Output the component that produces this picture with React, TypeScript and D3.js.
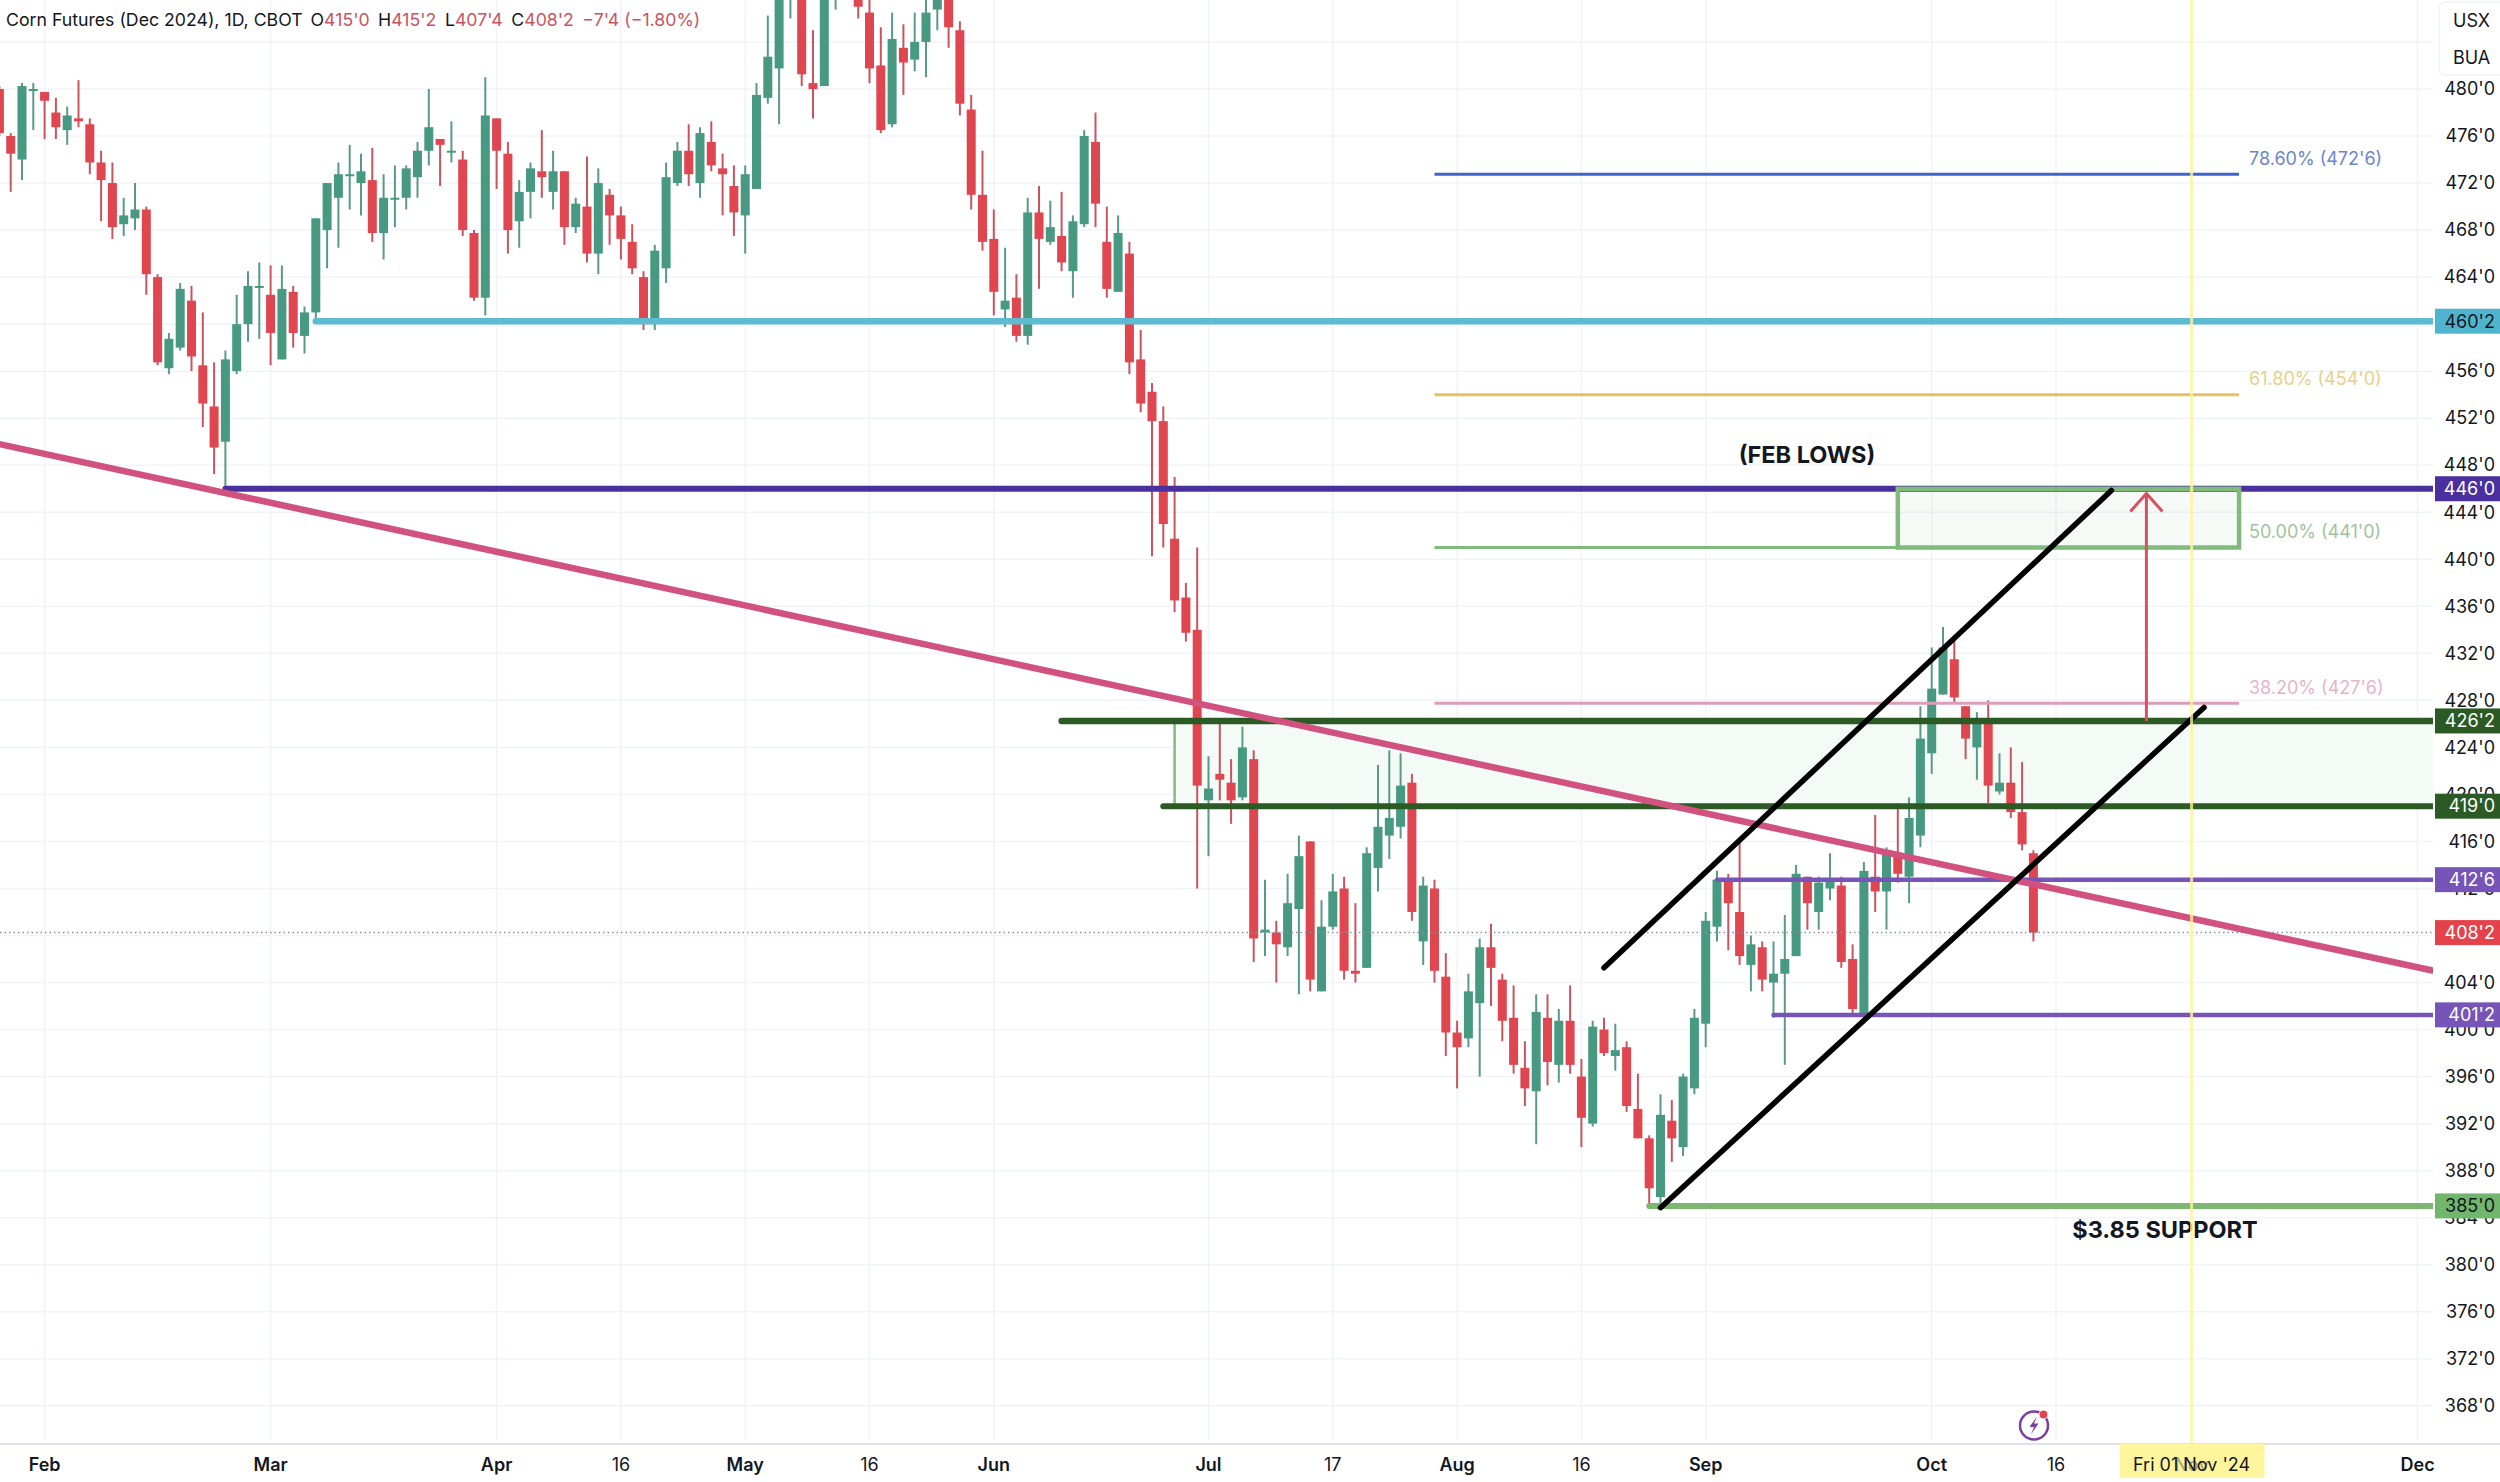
import { useEffect, useRef } from 'react'
import * as d3 from 'd3'

// Daily bars, prices in cents. Bars above the top of the picture are estimates.
const opens = [
  480, 476, 474, 480, 479.75, 478, 476.5, 477.5, 477, 473.75,
  472, 468.5, 469, 469.75, 464, 456.25, 458, 462, 456.5, 453,
  450, 456, 460, 463.25, 462.5, 457, 462.75, 459, 461, 468,
  470.75, 472.75, 472, 472.25, 467.75, 470.75, 470.75, 472.5, 474.75, 475.75,
  474.75, 474, 467.75, 462.25, 477.5, 474.5, 468.75, 471.25, 473, 471.25,
  473, 468.25, 470, 466, 471, 469.25, 467, 464, 460, 464.75,
  472, 474.75, 472, 475.5, 473.25, 471.75, 469.25, 471.5, 479.25, 481.75,
  489, 490, 480.5, 480.25, 489, 495, 490, 486.5, 482, 477,
  483.5, 482.5, 484, 486.75, 489.5, 485, 478.25, 471, 467.25, 461.25,
  462.25, 459, 469.5, 467, 467.5, 464.5, 468.5, 475.5, 467, 462.75,
  466, 457, 454.25, 451.75, 441.75, 436.75, 434, 419.5, 421.75, 421,
  419.75, 423, 408.25, 408.25, 407, 410.25, 416, 403.25, 408.75, 412,
  405, 405.25, 413.75, 416.5, 417.25, 421, 407.5, 412, 404.5, 399.75,
  399.25, 402.25, 407, 404.25, 401, 396.75, 394.75, 401, 397, 400.75,
  396, 392, 400, 397.75, 398.5, 393.25, 390.75, 385.75, 392.25, 390,
  395, 400.5, 408.75, 412.75, 410, 405.5, 407, 404, 404.75, 406.25,
  413, 410, 412, 412.25, 406, 401.25, 413, 411.75, 415, 413,
  416.5, 423.5, 428.5, 431.5, 427.5, 424, 426, 420.25, 421, 418.5,
  415,
]
const closes = [
  476.25, 474.5, 480.25, 480, 479, 476.75, 477.75, 477.25, 473.75, 472.25,
  468.25, 469.25, 469.75, 464.25, 456.75, 458.75, 463, 457.25, 453.25, 449.5,
  457, 460, 463.25, 463.25, 459.25, 463, 459.25, 461, 469, 472,
  472.75, 472.75, 473, 467.75, 470.75, 470.75, 473.25, 474.75, 476.75, 475.25,
  474.75, 468, 462.25, 477.75, 474.75, 468, 471.25, 473.25, 472.5, 473,
  468.25, 470.25, 466, 472, 469.25, 467.25, 464.75, 460, 466.25, 472.5,
  474.75, 472.75, 476.25, 473.5, 472.75, 469.5, 472.75, 479.5, 482.75, 490,
  491, 481.25, 480, 490, 491, 492, 487, 481.75, 476.5, 484.25,
  482.25, 484, 486.5, 489, 485.25, 478.75, 471, 467, 462.75, 462,
  459, 469.5, 467.25, 468.25, 465.25, 468.75, 476, 470.25, 463, 467.75,
  456.75, 453.25, 451.75, 443, 436.5, 433.75, 420.75, 420.5, 421.25, 419.5,
  424, 407.75, 408.5, 407.25, 410.75, 414.75, 404.25, 408.75, 411.75, 405,
  404.75, 415, 417.25, 418, 420.75, 410, 412.25, 405, 399.75, 398.5,
  403.25, 407, 405.25, 400.75, 397, 395, 401.5, 397.25, 400.75, 397,
  392.5, 400.25, 398, 398.25, 393.5, 390.75, 386.5, 392.75, 390.75, 396,
  401, 409.25, 412.75, 410.75, 406.25, 407.25, 404.25, 404.75, 406, 413.25,
  410.75, 412.5, 412.75, 405.75, 401.75, 413.5, 411.75, 415.25, 413.25, 418,
  424.75, 429, 432.5, 428.25, 424.75, 426, 420.75, 421, 418.5, 415.75,
  408.25,
]
const highs = [
  480.25, 476.25, 480.5, 480.5, 479.75, 479.25, 478.5, 480.75, 477.5, 474.75,
  473.75, 470.75, 472, 470, 464.25, 459.25, 463.5, 463.25, 461, 456.75,
  457.75, 462.5, 464.5, 465.25, 465, 465, 463.25, 461.5, 469, 472,
  473.75, 475.25, 474.5, 475, 472.75, 473.5, 473.5, 475.5, 480, 475.75,
  477.25, 474.75, 468, 481, 477.5, 475.5, 472.25, 473.75, 476.5, 474.75,
  473, 470.75, 474.25, 473.25, 471.5, 470, 468.5, 464.5, 466.75, 473.75,
  475.5, 477, 476.75, 477.25, 474.5, 473.5, 473.5, 480.5, 486.25, 492,
  494, 492, 485, 492, 494, 496, 491, 488.5, 485.25, 486.5,
  485.5, 486.5, 488.5, 491, 490, 485.75, 479.5, 474.75, 469.75, 466.5,
  464.25, 470.75, 471.75, 470.5, 471.25, 469.25, 476.5, 478, 470, 469.25,
  467, 459.5, 455, 453, 447, 438, 441, 423.25, 426.25, 423,
  425.75, 423.75, 412.75, 409.25, 413.25, 416.5, 416, 411, 413.25, 413,
  410.75, 415.5, 422.5, 423.75, 423.5, 421.75, 413, 412.75, 406.5, 400.75,
  404.75, 407.75, 409, 404.75, 403.75, 399, 403, 403, 401.75, 403.75,
  397.5, 400.75, 401, 400.5, 399, 396.25, 391, 394.5, 394, 396.25,
  401.75, 410, 413.5, 413.25, 416, 408, 407.5, 407.5, 409.75, 414,
  413, 413, 415, 413, 407.25, 414.25, 418.25, 415.5, 419.25, 419.75,
  427.5, 432.5, 434.25, 433.25, 427.5, 427, 428, 423.5, 424, 422.75,
  415.25,
]
const lows = [
  476, 471.25, 472.25, 476.5, 475.75, 475.75, 475.25, 476.75, 472.75, 468.75,
  467.25, 467.5, 468, 462.5, 456.5, 455.75, 457.75, 456, 451.25, 447.25,
  446, 455.75, 458.5, 458.75, 456.5, 457, 458, 457.5, 460.25, 464.75,
  466.5, 469.75, 469.25, 467, 465.5, 468.25, 469.75, 470.75, 473.5, 471.75,
  473.75, 467.5, 462, 460.75, 471.5, 466, 466.5, 469, 470.75, 469.75,
  466.75, 467.75, 465.25, 464.25, 466.75, 465.5, 464.25, 459.5, 459.5, 463.5,
  471.75, 471.75, 470.75, 473, 469.25, 467.5, 466, 471.5, 478.75, 477,
  486, 480.25, 477.5, 480.25, 486.75, 490, 486, 480.5, 476.25, 476.75,
  479.5, 481.5, 481, 485, 483.5, 477.75, 469.75, 466.25, 460.75, 459.75,
  458.5, 458.25, 463, 466.75, 464.5, 462.25, 468.25, 468.25, 462.25, 462.75,
  455.75, 452.5, 440.25, 441, 435.5, 433, 412, 414.75, 419.5, 417.5,
  419.5, 405.75, 406.25, 404, 406.25, 403, 403.25, 403.25, 408.5, 404.25,
  404, 405.25, 411.75, 414.5, 416.25, 409.25, 405.5, 404, 397.75, 395,
  398.5, 396, 402, 399, 396.25, 393.5, 390.25, 395.25, 395.5, 396.25,
  390, 391.75, 397.75, 396.5, 393, 390.75, 385, 385, 388.75, 389.25,
  394.5, 398.5, 407.5, 406.75, 405.5, 403.25, 403.25, 401, 397, 406.25,
  408.5, 408.5, 411, 405.25, 401.25, 401, 410, 408.5, 412.5, 410.75,
  415.5, 421.75, 428.5, 427.75, 423, 421.25, 419.25, 420, 418, 415.25,
  407.5,
]

const priceTicks = d3.range(368, 481, 4)
const timeTickBars = [4, 24, 44, 55, 66, 77, 88, 107, 118, 129, 140, 151, 171, 182, 214]
const timeTickLabels = ['Feb', 'Mar', 'Apr', '16', 'May', '16', 'Jun', 'Jul', '17', 'Aug', '16', 'Sep', 'Oct', '16', 'Dec']
const cursorBar = 194

const fibLevels = [472.75, 454, 441, 427.75]
const fibNames = ["78.60% (472'6)", "61.80% (454'0)", "50.00% (441'0)", "38.20% (427'6)"]
const fibColors = ['#3f64c9', '#e6c25e', '#80bb7b', '#dd9db6']
const fibTextColors = ['#6b86c8', '#e8d08a', '#a0c49c', '#e5b5c8']

const tagPrices = [460.25, 446, 426.25, 419, 412.75, 408.25, 401.25, 385]
const tagLabels = ["460'2", "446'0", "426'2", "419'0", "412'6", "408'2", "401'2", "385'0"]
const tagColors = ['#4fb5cf', '#4a2f9f', '#2c5a24', '#2c5a24', '#7754b8', '#e5434c', '#7754b8', '#72b56c']
const tagTextColors = ['#131722', '#fff', '#fff', '#fff', '#fff', '#fff', '#fff', '#131722']

const FONT = 'Inter, "Liberation Sans", sans-serif'
const RED_TEXT = '#c9545f'

export default function App() {
  const svgRef = useRef<SVGSVGElement>(null)

  useEffect(() => {
    if (!svgRef.current) return

    const W = 2500
    const H = 1482
    const plotRight = 2433
    const plotBottom = 1444

    const svg = d3.select(svgRef.current)
    svg.selectAll('*').remove()
    svg.attr('font-family', FONT)

    const x = d3.scaleLinear().domain([0, 215]).range([-0.6, -0.6 + 215 * 11.3])
    const y = d3.scaleLinear().domain([480, 368]).range([89, 1405.8])

    svg.append('rect').attr('width', W).attr('height', H).attr('fill', '#fff')

    svg.append('clipPath').attr('id', 'plot')
      .append('rect').attr('width', plotRight).attr('height', plotBottom)

    // Grid
    const grid = svg.append('g').attr('stroke', '#f0f3f7').attr('stroke-width', 1.5)
    grid.selectAll('line.h')
      .data(d3.range(368, 489, 4))
      .enter()
      .append('line')
      .attr('x1', 0)
      .attr('x2', plotRight)
      .attr('y1', d => y(d))
      .attr('y2', d => y(d))
    grid.selectAll('line.v')
      .data([...timeTickBars, cursorBar])
      .enter()
      .append('line')
      .attr('x1', d => x(d))
      .attr('x2', d => x(d))
      .attr('y1', 0)
      .attr('y2', 1440)

    // Price axis, the tags below sit on top of it
    svg.append('g')
      .attr('transform', 'translate(2495,0)')
      .call(
        d3.axisRight(y)
          .tickValues(priceTicks)
          .tickSize(0)
          .tickPadding(0)
          .tickFormat(d => `${d}'0`)
      )
      .call(gg => gg.select('.domain').remove())
      .call(gg => gg.selectAll('text')
        .attr('text-anchor', 'end')
        .attr('font-family', FONT)
        .attr('font-size', 18)
        .attr('fill', '#131722')
      )

    const plot = svg.append('g').attr('clip-path', 'url(#plot)')

    // Green zones
    plot.append('rect')
      .attr('x', x(104))
      .attr('width', plotRight - x(104))
      .attr('y', y(426.25))
      .attr('height', y(419) - y(426.25))
      .attr('fill', '#f4faf6')
    plot.append('line')
      .attr('x1', x(104))
      .attr('x2', x(104))
      .attr('y1', y(426.25))
      .attr('y2', y(419))
      .attr('stroke', '#80bb7b')
      .attr('stroke-width', 2.5)

    // Candles
    const upColor = '#479a81'
    const downColor = '#e0464f'
    const bars = d3.range(opens.length)
    const candle = plot.append('g').selectAll('g')
      .data(bars)
      .enter()
      .append('g')
    candle.append('line')
      .attr('x1', i => x(i))
      .attr('x2', i => x(i))
      .attr('y1', i => y(highs[i]))
      .attr('y2', i => y(lows[i]))
      .attr('stroke', i => (closes[i] >= opens[i] ? '#589a86' : '#c9545f'))
      .attr('stroke-width', 2)
    candle.append('rect')
      .attr('x', i => x(i) - 4.5)
      .attr('width', 9)
      .attr('y', i => y(Math.max(opens[i], closes[i])))
      .attr('height', i => Math.max(2, Math.abs(y(opens[i]) - y(closes[i]))))
      .attr('fill', i => (closes[i] >= opens[i] ? upColor : downColor))

    // Last price
    plot.append('line')
      .attr('x1', 0)
      .attr('x2', plotRight)
      .attr('y1', y(408.25))
      .attr('y2', y(408.25))
      .attr('stroke', '#8a8f98')
      .attr('stroke-width', 1.5)
      .attr('stroke-dasharray', '1.5,3')

    const hLine = (price: number, fromBar: number, toBar: number, color: string, width: number) =>
      plot.append('line')
        .attr('x1', x(fromBar))
        .attr('x2', x(toBar))
        .attr('y1', y(price))
        .attr('y2', y(price))
        .attr('stroke', color)
        .attr('stroke-width', width)
        .attr('stroke-linecap', 'round')

    hLine(460.25, 28, 220, '#5ebcd2', 6.5)
    hLine(446, 20, 220, '#4a2f9f', 6)
    hLine(412.75, 152, 220, '#7754b8', 4.5)
    hLine(401.25, 157, 220, '#7754b8', 4.5)
    hLine(385, 146, 220, '#7db873', 6)
    hLine(419, 103, 220, '#2c5a24', 6)
    hLine(426.25, 94, 220, '#2c5a24', 6.5)

    // Fib levels
    fibLevels.forEach((level, k) => {
      hLine(level, 127, 198.2, fibColors[k], 3).attr('stroke-linecap', 'butt')
      svg.append('text')
        .attr('x', 2249)
        .attr('y', y(level) - 16)
        .attr('dy', '0.35em')
        .attr('font-size', 18)
        .attr('fill', fibTextColors[k])
        .text(fibNames[k])
    })

    // Target box
    plot.append('rect')
      .attr('x', x(168))
      .attr('y', y(446))
      .attr('width', x(198.2) - x(168))
      .attr('height', y(441) - y(446))
      .attr('fill', '#80bb7b')
      .attr('fill-opacity', 0.07)
      .attr('stroke', '#80bb7b')
      .attr('stroke-width', 4.5)

    // Trend line
    const line = d3.line<[number, number]>()
      .x(d => x(d[0]))
      .y(d => y(d[1]))
    plot.append('path')
      .attr('d', line([[0, 449.8], [215.4, 405]]))
      .attr('fill', 'none')
      .attr('stroke', '#d2527f')
      .attr('stroke-width', 6.5)

    // Channel
    const channelLow: [number, number][] = [[147, 384.85], [195.1, 427.4]]
    const channelHigh: [number, number][] = [[142, 405.25], [186.9, 445.85]]
    ;[channelLow, channelHigh].forEach(pts => {
      plot.append('path')
        .attr('d', line(pts))
        .attr('fill', 'none')
        .attr('stroke', '#000')
        .attr('stroke-width', 5.5)
        .attr('stroke-linecap', 'round')
    })

    // Arrow up to the 446 target
    const arrowTip = y(445.6)
    plot.append('path')
      .attr('d', `M${x(190)},${y(426.25)}V${arrowTip}M${x(190) - 16},${arrowTip + 18}L${x(190)},${arrowTip}L${x(190) + 16},${arrowTip + 18}`)
      .attr('fill', 'none')
      .attr('stroke', '#d9505e')
      .attr('stroke-width', 3)

    // Notes
    svg.append('text')
      .attr('x', 1807)
      .attr('y', 455)
      .attr('dy', '0.35em')
      .attr('text-anchor', 'middle')
      .attr('font-size', 23.5)
      .attr('font-weight', 700)
      .attr('fill', '#131722')
      .text('(FEB LOWS)')
    svg.append('text')
      .attr('x', 2165)
      .attr('y', 1230)
      .attr('dy', '0.35em')
      .attr('text-anchor', 'middle')
      .attr('font-size', 23.5)
      .attr('font-weight', 700)
      .attr('fill', '#131722')
      .text('$3.85 SUPPORT')

    // Crosshair line for the date under the cursor
    svg.append('line')
      .attr('x1', x(cursorBar))
      .attr('x2', x(cursorBar))
      .attr('y1', 0)
      .attr('y2', plotBottom)
      .attr('stroke', '#fff59d')
      .attr('stroke-opacity', 0.8)
      .attr('stroke-width', 3)

    // Price tags
    const tag = svg.append('g').selectAll('g')
      .data(tagPrices)
      .enter()
      .append('g')
    tag.append('rect')
      .attr('x', 2435)
      .attr('width', 65)
      .attr('y', d => y(d) - 12.5)
      .attr('height', 25)
      .attr('fill', (_, k) => tagColors[k])
    tag.append('text')
      .attr('x', 2495)
      .attr('y', d => y(d))
      .attr('dy', '0.35em')
      .attr('text-anchor', 'end')
      .attr('font-size', 18)
      .attr('fill', (_, k) => tagTextColors[k])
      .text((_, k) => tagLabels[k])

    // Currency / unit box
    svg.append('rect')
      .attr('x', 2439.5)
      .attr('y', 2)
      .attr('width', 70)
      .attr('height', 73)
      .attr('rx', 5)
      .attr('fill', '#fff')
      .attr('stroke', '#f0f3f7')
      .attr('stroke-width', 1.5)
    ;['USX', 'BUA'].forEach((t, k) => {
      svg.append('text')
        .attr('x', 2453)
        .attr('y', 21 + k * 37)
        .attr('dy', '0.35em')
        .attr('font-size', 18)
        .attr('fill', '#131722')
        .text(t)
    })

    // Time axis
    svg.append('line')
      .attr('x1', 0)
      .attr('x2', W)
      .attr('y1', plotBottom)
      .attr('y2', plotBottom)
      .attr('stroke', '#e0e3eb')
      .attr('stroke-width', 2)
    svg.append('g').selectAll('text')
      .data(timeTickBars)
      .enter()
      .append('text')
      .attr('x', d => x(d))
      .attr('y', 1465)
      .attr('dy', '0.35em')
      .attr('text-anchor', 'middle')
      .attr('font-size', 18)
      .attr('font-weight', (_, k) => (/\d/.test(timeTickLabels[k]) ? 400 : 600))
      .attr('fill', '#131722')
      .text((_, k) => timeTickLabels[k])

    svg.append('rect')
      .attr('x', x(cursorBar) - 72)
      .attr('y', plotBottom)
      .attr('width', 145)
      .attr('height', 34)
      .attr('rx', 2)
      .attr('fill', '#fff59d')
    svg.append('text')
      .attr('x', x(cursorBar))
      .attr('y', 1465)
      .attr('dy', '0.35em')
      .attr('text-anchor', 'middle')
      .attr('font-size', 18)
      .attr('font-weight', 600)
      .attr('fill', '#131722')
      .attr('fill-opacity', 0.35)
      .text('Nov')
    svg.append('text')
      .attr('x', x(cursorBar))
      .attr('y', 1465)
      .attr('dy', '0.35em')
      .attr('text-anchor', 'middle')
      .attr('font-size', 18)
      .attr('fill', '#131722')
      .text("Fri 01 Nov '24")

    // Header
    const legend = svg.append('text')
      .attr('x', 6)
      .attr('y', 20)
      .attr('dy', '0.35em')
      .attr('font-size', 17.7)
    legend.append('tspan').attr('fill', '#131722').text('Corn Futures (Dec 2024), 1D, CBOT')
    const ohlc = [['O', "415'0"], ['H', "415'2"], ['L', "407'4"], ['C', "408'2"]]
    ohlc.forEach(([k, v]) => {
      legend.append('tspan').attr('dx', 8.5).attr('fill', '#131722').text(k)
      legend.append('tspan').attr('fill', RED_TEXT).text(v)
    })
    legend.append('tspan').attr('dx', 8.5).attr('fill', RED_TEXT).text("\u22127'4 (\u22121.80%)")

    // Lightning badge on the time axis
    const badge = svg.append('g').attr('transform', 'translate(2034,1425.5)')
    badge.append('circle')
      .attr('r', 14)
      .attr('fill', 'none')
      .attr('stroke', '#7b3fa0')
      .attr('stroke-width', 2.5)
    badge.append('path')
      .attr('d', 'M3,-9L-4.5,1.5H0L-3,9L4.5,-2H0Z')
      .attr('fill', '#7b3fa0')
    badge.append('circle')
      .attr('cx', 9.5)
      .attr('cy', -11)
      .attr('r', 4.5)
      .attr('fill', '#e0464f')
      .attr('stroke', '#fff')
      .attr('stroke-width', 1)
  }, [])

  return (
    <svg
      ref={svgRef}
      width={2500}
      height={1482}
      style={{ position: 'absolute', left: 0, top: 0, display: 'block' }}
    />
  )
}
